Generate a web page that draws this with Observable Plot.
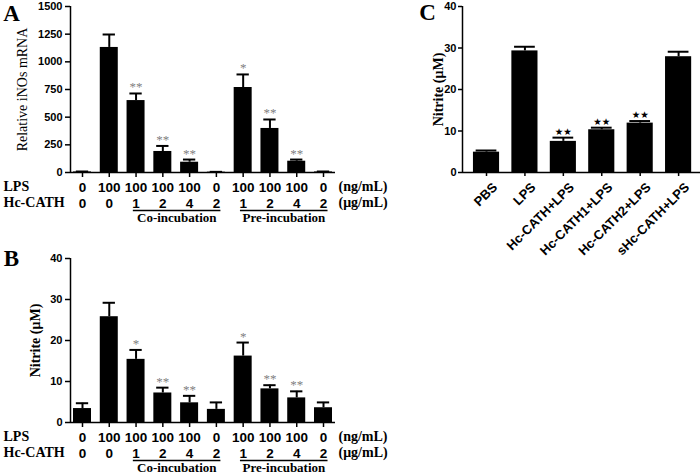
<!DOCTYPE html>
<html><head><meta charset="utf-8">
<script src="https://cdn.jsdelivr.net/npm/d3@7"></script>
<script src="https://cdn.jsdelivr.net/npm/@observablehq/plot@0.6"></script>
<style>
body{margin:0;background:#fff;}
#wrap{position:relative;width:700px;height:475px;background:#fff;overflow:hidden;}
#wrap svg{position:absolute;}
</style></head><body><div id="wrap"></div>
<script>
// ---- data ----
const barIndex = [0,1,2,3,4,5,6,7,8,9];
const lpsDose  = ["0","100","100","100","100","0","100","100","100","0"];
const cathDose = ["0","0","1","2","4","2","1","2","4","2"];
const inosMean = [5,1130,650,190,93,3,768,398,102,5];
const inosErr  = [9,1247,714,240,117,6,886,479,117,9];
const inosSig  = ["","","**","**","**","","*","**","**",""];
const nitBMean = [3.4,25.8,15.4,7.2,4.8,3.2,16.2,8.2,6.0,3.6];
const nitBErr  = [4.7,29.2,17.7,8.5,6.5,4.9,19.5,9.1,7.6,4.9];
const nitBSig  = ["","","*","**","**","","*","**","**",""];
const groupLabels = ["Co-incubation","Pre-incubation"];
const groupFrom = [2,6];
const groupTo = [5,9];
const treatments = ["PBS","LPS","Hc-CATH+LPS","Hc-CATH1+LPS","Hc-CATH2+LPS","sHc-CATH+LPS"];
const treatIndex = [0,1,2,3,4,5];
const nitCMean = [4.9,29.3,7.5,10.3,11.9,27.9];
const nitCErr  = [5.3,30.3,8.4,10.8,12.4,29.1];
const nitCSig  = ["","","★★","★★","★★",""];
const yTicksA = [0,250,500,750,1000,1250,1500];
const yTicksB = [0,10,20,30,40];

const SERIF = "'Liberation Serif', 'Times New Roman', serif";
const SANS = "'Liberation Sans', Arial, sans-serif";
const wrap = document.getElementById("wrap");
const plain = d => String(d);

function panelAB(o){
  const rows = barIndex.map(i => ({i, mean:o.mean[i], err:o.err[i], sig:o.sig[i]}));
  const groups = groupLabels.map((label,k) => ({label, from:groupFrom[k], to:groupTo[k]}));
  const xDom = [-0.448, 9.448];
  const serifText = {fontFamily: SERIF, fontSize: 14, fontWeight: "bold", lineAnchor: "middle"};
  const svg = Plot.plot({
    width: 400, height: o.height,
    marginLeft: 70, marginRight: 65, marginTop: o.marginTop, marginBottom: o.marginBottom,
    style: {fontFamily: SANS, fontWeight: "bold", fontSize: "11px", background: "transparent", overflow: "visible", color: "black"},
    x: {type: "linear", domain: xDom},
    y: {domain: [0, o.yMax]},
    marks: [
      Plot.rectY(rows, {x1: d => d.i - 0.336, x2: d => d.i + 0.336, y: "mean", fill: "black"}),
      Plot.ruleX(rows, {x: "i", y1: "mean", y2: "err", stroke: "black", strokeWidth: 2}),
      Plot.ruleY(rows, {y: "err", x1: d => d.i - 0.23, x2: d => d.i + 0.23, stroke: "black", strokeWidth: 2}),
      Plot.text(rows, {x: "i", y: "err", text: "sig", dy: -2, lineAnchor: "bottom", fontFamily: SERIF, fontWeight: "normal", fontSize: 13, fill: "#808080"}),
      Plot.ruleY([0], {stroke: "black", strokeWidth: 1.5}),
      Plot.ruleX([xDom[0]], {stroke: "black", strokeWidth: 1.5}),
      Plot.axisY({ticks: o.yTicks, tickFormat: plain, tickSize: 5, tickPadding: 3, fontSize: 11, strokeWidth: 1.5, label: null}),
      Plot.axisX({ticks: barIndex, tickFormat: i => lpsDose[i], tickSize: 5, tickPadding: 5, fontSize: 13.5, strokeWidth: 1.5, label: null}),
      Plot.axisX({ticks: barIndex, tickFormat: i => cathDose[i], tickSize: 0, tickPadding: 26, fontSize: 13.5, label: null}),
      Plot.link(groups, {x1: d => d.from - 0.12, x2: d => d.to + 0.15, y1: d => 0, y2: d => 0, dy: 38, stroke: "black", strokeWidth: 1.5}),
      Plot.text(groups, {x: d => (d.from + d.to) / 2 + 0.02, y: d => 0, text: "label", dy: 45, lineAnchor: "middle", fontFamily: SERIF, fontSize: 13, fontWeight: "bold"}),
      Plot.text(["LPS"], {...serifText, frameAnchor: "bottom-left", dx: -67, dy: 14, textAnchor: "start"}),
      Plot.text(["Hc-CATH"], {...serifText, frameAnchor: "bottom-left", dx: -67, dy: 30, textAnchor: "start"}),
      Plot.text(["(ng/mL)"], {...serifText, frameAnchor: "bottom-right", dx: 3, dy: 14, textAnchor: "start"}),
      Plot.text(["(\u03bcg/mL)"], {...serifText, frameAnchor: "bottom-right", dx: 3, dy: 30, textAnchor: "start"}),
      Plot.text([o.title], {frameAnchor: "left", dx: o.titleDx, rotate: -90, textAnchor: "middle", lineAnchor: "middle", fontFamily: SERIF, fontSize: 14, fontWeight: o.titleWeight}),
      Plot.text([o.letter], {frameAnchor: "top-left", dx: -59, dy: o.letterDy, textAnchor: "middle", lineAnchor: "middle", fontFamily: SERIF, fontSize: 23, fontWeight: "bold"})
    ]
  });
  svg.style.left = "0px";
  svg.style.top = o.top + "px";
  wrap.appendChild(svg);
}

panelAB({letter: "A", title: "Relative iNOs mRNA", titleDx: -48, titleWeight: "normal", letterDy: 7,
  mean: inosMean, err: inosErr, sig: inosSig, yMax: 1500, yTicks: yTicksA,
  top: 0, height: 235, marginTop: 6, marginBottom: 63});
panelAB({letter: "B", title: "Nitrite (\u03bcM)", titleDx: -35, titleWeight: "bold", letterDy: 0,
  mean: nitBMean, err: nitBErr, sig: nitBSig, yMax: 40, yTicks: yTicksB,
  top: 245, height: 230, marginTop: 13, marginBottom: 53});

// Panel C
{
  const rows = treatIndex.map(i => ({i, mean: nitCMean[i], err: nitCErr[i], sig: nitCSig[i], name: treatments[i]}));
  const xDom = [-0.625, 5.57];
  const svg = Plot.plot({
    width: 300, height: 265,
    marginLeft: 62, marginRight: 0, marginTop: 6, marginBottom: 93,
    style: {fontFamily: SANS, fontWeight: "bold", fontSize: "11px", background: "transparent", overflow: "visible", color: "black"},
    x: {type: "linear", domain: xDom},
    y: {domain: [0, 40]},
    marks: [
      Plot.rectY(rows, {x1: d => d.i - 0.34, x2: d => d.i + 0.34, y: "mean", fill: "black"}),
      Plot.ruleX(rows, {x: "i", y1: "mean", y2: "err", stroke: "black", strokeWidth: 2}),
      Plot.ruleY(rows, {y: "err", x1: d => d.i - 0.27, x2: d => d.i + 0.27, stroke: "black", strokeWidth: 2}),
      Plot.text(rows, {x: "i", y: "err", text: "sig", dy: -3, lineAnchor: "bottom", fontFamily: "'DejaVu Sans'", fontSize: 9.5, fill: "black"}),
      Plot.ruleY([0], {stroke: "black", strokeWidth: 1.5}),
      Plot.ruleX([xDom[0]], {stroke: "black", strokeWidth: 1.5}),
      Plot.axisY({ticks: yTicksB, tickFormat: plain, tickSize: 4, tickPadding: 2, fontSize: 11, strokeWidth: 1.5, label: null}),
      Plot.axisX({ticks: treatIndex, tickFormat: () => "", tickSize: 4, strokeWidth: 1.5, label: null}),
      Plot.text(rows, {x: "i", y: d => 0, text: "name", rotate: -45, textAnchor: "end", lineAnchor: "top", dx: 5, dy: 9, fontSize: 13, fontWeight: "bold"}),
      Plot.text(["Nitrite (\u03bcM)"], {frameAnchor: "left", dx: -24, rotate: -90, textAnchor: "middle", lineAnchor: "middle", fontFamily: SERIF, fontSize: 14, fontWeight: "bold"}),
      Plot.text(["C"], {frameAnchor: "top-left", dx: -35, dy: 6, textAnchor: "middle", lineAnchor: "middle", fontFamily: SERIF, fontSize: 23, fontWeight: "bold"})
    ]
  });
  svg.style.left = "400px";
  svg.style.top = "0px";
  wrap.appendChild(svg);
}
</script></body></html>
